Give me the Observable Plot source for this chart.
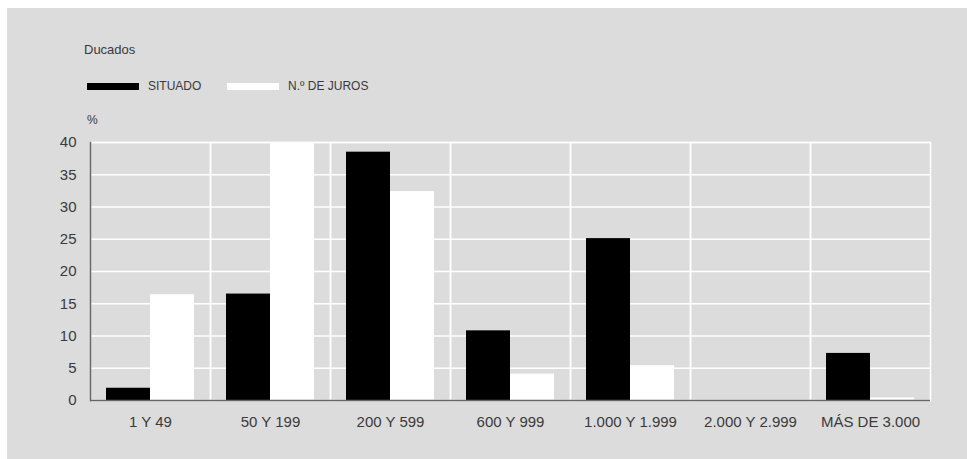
<!DOCTYPE html>
<html>
<head>
<meta charset="utf-8">
<script src="https://cdn.jsdelivr.net/npm/d3@7"></script>
<script src="https://cdn.jsdelivr.net/npm/@observablehq/plot@0.6"></script>
<style>
  html, body { margin: 0; padding: 0; background: #ffffff; overflow: hidden; }
  #wrap {
    position: fixed; left: 7px; top: 8px; right: 0; bottom: 0;
    background: #dcdcdc; font-family: "Liberation Sans", Arial, sans-serif; color: #3a3a3a;
    overflow: hidden;
  }
  .t { position: absolute; white-space: nowrap; line-height: 1; }
  .sw { position: absolute; width: 52px; height: 7px; }
  #chart { position: absolute; left: 0; top: 122px; width: 960px; height: 329px; }
  #chart svg { display: block; }
</style>
</head>
<body>
<div id="wrap">
  <div class="t" style="left:77px; top:35px; font-size:13px;">Ducados</div>
  <div class="sw" style="left:80px; top:75px; background:#000;"></div>
  <div class="t" id="leg0" style="left:141px; top:72px; font-size:12px;"></div>
  <div class="sw" style="left:220px; top:75px; background:#fff;"></div>
  <div class="t" id="leg1" style="left:281px; top:72px; font-size:12px;"></div>
  <div class="t" style="left:80px; top:106px; font-size:12px;">%</div>
  <div id="chart"></div>
</div>
<script>
const categories = ["1 Y 49", "50 Y 199", "200 Y 599", "600 Y 999", "1.000 Y 1.999", "2.000 Y 2.999", "MÁS DE 3.000"];
const series = ["SITUADO", "N.º DE JUROS"];
const situado = [1.9, 16.5, 38.5, 10.8, 25.1, 0, 7.3];
const juros = [16.4, 40, 32.4, 4.1, 5.4, 0, 0.4];
const yTicks = [0, 5, 10, 15, 20, 25, 30, 35, 40];
const colors = ["#000000", "#ffffff"];

document.getElementById("leg0").textContent = series[0];
document.getElementById("leg1").textContent = series[1];

const rows = [];
categories.forEach((c, i) => {
  rows.push({cat: c, serie: series[0], value: situado[i]});
  rows.push({cat: c, serie: series[1], value: juros[i]});
});

const chart = Plot.plot({
  width: 960,
  height: 329,
  marginTop: 12,
  marginBottom: 59,
  marginLeft: 81,
  marginRight: 35,
  style: {background: "transparent", fontFamily: "Liberation Sans, Arial, sans-serif", color: "#3a3a3a", fontSize: "15px"},
  fx: {domain: categories, padding: 0, label: null},
  x: {domain: series, paddingInner: 0, paddingOuter: 0.35, axis: null},
  y: {domain: [0, 40], label: null},
  color: {domain: series, range: colors},
  marks: [
    Plot.gridY(yTicks, {stroke: "#ffffff", strokeOpacity: 1, strokeWidth: 1.5}),
    Plot.frame({stroke: "#ffffff", strokeOpacity: 1, strokeWidth: 1.5}),
    Plot.barY(rows, {fx: "cat", x: "serie", y: "value", fill: "serie"}),
    Plot.ruleY([0], {stroke: "#666", strokeWidth: 1.5}),
    Plot.frame({anchor: "left", facetAnchor: "left", stroke: "#666", strokeWidth: 1.5}),
    Plot.axisY({ticks: yTicks, tickSize: 0, tickPadding: 14, label: null, fontSize: 15}),
    Plot.axisFx({anchor: "bottom", label: null, tickSize: 0, tickPadding: 16, fontSize: 15})
  ]
});
document.getElementById("chart").appendChild(chart);
</script>
</body>
</html>
